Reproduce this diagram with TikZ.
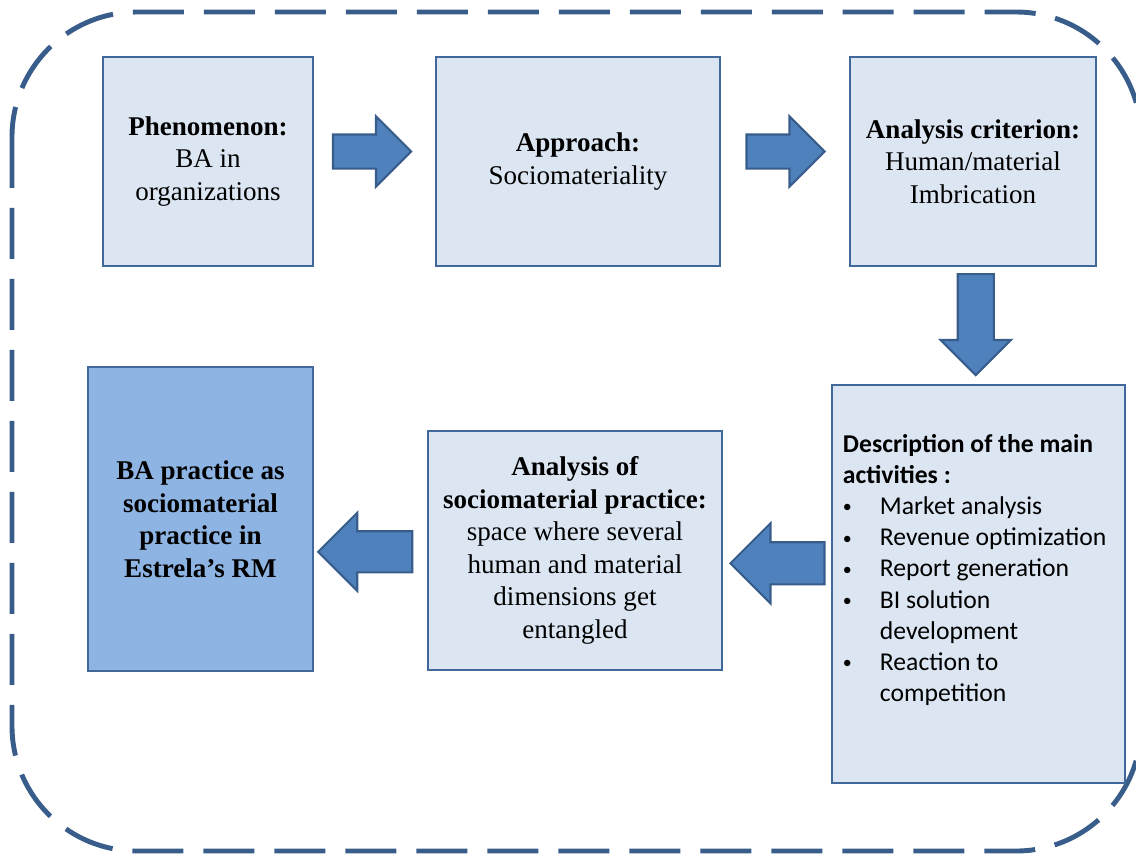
\documentclass[tikz,border=0pt]{standalone}
\usepackage{fontspec}
\setmainfont{Liberation Serif}
\newfontfamily\calibri{Carlito}
\usetikzlibrary{calc,shapes.arrows}

\definecolor{framecol}{HTML}{385D8A}
\definecolor{boxfill}{HTML}{DCE6F2}
\definecolor{boxline}{HTML}{41689A}
\definecolor{arrowfill}{HTML}{4F81BD}
\definecolor{darkfill}{HTML}{8EB4E3}

\newcommand{\bul}{\makebox[0.74cm][l]{\raisebox{0.15ex}{\scalebox{0.7}{\textbullet}}}}
\newcommand{\nobul}{\makebox[0.74cm][l]{}}

\begin{document}
\begin{tikzpicture}[x=0.02cm,y=-0.02cm,
    box/.style={draw=boxline,line width=1.6pt,fill=boxfill,align=center,inner sep=0pt,
      font=\fontsize{15.4}{18.5}\selectfont},
    blockarrow/.style={single arrow,draw=framecol,line width=1.2pt,fill=arrowfill,
      single arrow tip angle=90,inner xsep=0pt},
    frame/.style={draw=framecol,line width=2.8pt,rounded corners=2.5cm,
      dash pattern=on 1.02cm off 0.4cm}]
          \useasboundingbox (0,0) rectangle (1136,860);
          \draw[frame] (12,12) rectangle (1141,851);

          % top row
          \node[box,minimum width=4.2cm,minimum height=4.18cm] (phen) at (208,161.5)
            {\textbf{Phenomenon:}\\BA in\\organizations};
          \node[box,minimum width=5.68cm,minimum height=4.18cm] (appr) at (578,161.5)
            {\textbf{Approach:}\\Sociomateriality};
          \node[box,minimum width=4.92cm,minimum height=4.18cm] (crit) at (973,161.5)
            {\textbf{Analysis criterion:}\\Human/material\\Imbrication};

          % bottom row
          \node[box,minimum width=5.86cm,minimum height=7.96cm] (desc) at (978.5,584) {};
          \node[anchor=west,align=left,inner sep=0pt,
            font=\calibri\fontsize{14.6}{17.7}\selectfont] (desctext) at ($(desc.west)+(12,-14)$)
            {\textbf{Description of the main}\\
             \textbf{activities :}\\
             \bul Market analysis\\
             \bul Revenue optimization\\
             \bul Report generation\\
             \bul BI solution\\
             \nobul development\\
             \bul Reaction to\\
             \nobul competition};
          \node[box,minimum width=5.88cm,minimum height=4.78cm] (anal) at (575,550.5)
            {\textbf{Analysis of}\\\textbf{sociomaterial practice:}\\space where several\\
             human and material\\dimensions get\\entangled};
          \node[box,fill=darkfill,minimum width=4.5cm,minimum height=6.08cm] (bapr) at (200.5,519)
            {\textbf{BA practice as}\\\textbf{sociomaterial}\\\textbf{practice in}\\\textbf{Estrela’s RM}};

          % block arrows
          \node[blockarrow,minimum height=1.56cm,inner ysep=0.32cm,single arrow head extend=0.36cm]
            (a1) at ($(phen.east)!0.5!(appr.west)+(-11,-10)$) {};
          \node[blockarrow,minimum height=1.56cm,inner ysep=0.32cm,single arrow head extend=0.36cm]
            (a2) at ($(appr.east)!0.5!(crit.west)+(-8,-10)$) {};
          \node[blockarrow,rotate=-90,minimum height=2.02cm,inner ysep=0.34cm,single arrow head extend=0.34cm]
            (a3) at ($(crit.south)!0.5!(desc.north)+(0,-10)$) {};
          \node[blockarrow,rotate=180,minimum height=1.88cm,inner ysep=0.4cm,single arrow head extend=0.38cm]
            (a4) at ($(anal.east)!0.5!(desc.west)+(11,-4)$) {};
          \node[blockarrow,rotate=180,minimum height=1.88cm,inner ysep=0.39cm,single arrow head extend=0.37cm]
            (a5) at ($(bapr.east)!0.5!(anal.west)+(5,17)$) {};
        \end{tikzpicture}
\end{document}
